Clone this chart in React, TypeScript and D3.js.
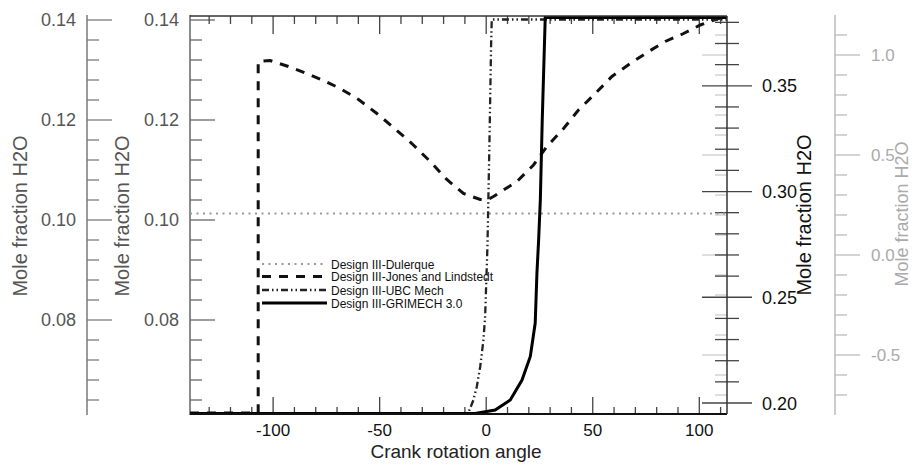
import * as d3 from 'd3';

const W = 912;
const H = 467;
const FONT = '"Liberation Sans", Arial, sans-serif';

// crank angle (deg) vs mole fraction H2O
const dulerqueAngle = [-139, -60, 0, 60, 113];
const dulerqueH2O = [0.1013, 0.1013, 0.1013, 0.1013, 0.1013];

const jonesAngle = [-139, -107, -107, -101.4, -92.8, -84.2, -76.4, -68.5, -59.9, -51.3, -43.5, -34.9, -26.3, -18.5, -10.7, -2.8, 0.5, 3.4, 14.4, 22.2, 28.5, 36.3, 43.3, 51.2, 59, 67.6, 76.2, 84, 92.6, 100.5, 109, 112];
const jonesH2O = [0.0614, 0.0614, 0.1317, 0.1319, 0.1307, 0.1293, 0.1279, 0.1263, 0.1241, 0.1213, 0.1185, 0.1153, 0.1117, 0.1081, 0.1053, 0.1041, 0.104, 0.1047, 0.1077, 0.111, 0.1147, 0.1183, 0.122, 0.1253, 0.1287, 0.1313, 0.1337, 0.1357, 0.1373, 0.139, 0.1403, 0.1405];

const ubcAngle = [-139, -9, -8.3, -6, -4.4, -2.8, -1.3, -0.5, 0.6, 1.5, 2.3, 2.6, 113];
const ubcH2O = [0.0613, 0.0613, 0.0615, 0.064, 0.0667, 0.0707, 0.076, 0.0807, 0.095, 0.115, 0.135, 0.1401, 0.1401];

const grimechAngle = [-139, -5.2, 4.2, 11.3, 16.8, 20.7, 23, 23.8, 24.6, 25.4, 26.3, 27.7, 113];
const grimechH2O = [0.0613, 0.0613, 0.062, 0.064, 0.068, 0.0727, 0.0794, 0.0893, 0.096, 0.104, 0.12, 0.1405, 0.1405];

const X_MAJOR = [-100, -50, 0, 50, 100];
const X_MINOR = [-130, -120, -110, -90, -80, -70, -60, -40, -30, -20, -10, 10, 20, 30, 40, 60, 70, 80, 90, 110];
const YL_MAJOR = [0.08, 0.1, 0.12, 0.14];
const YL_MINOR = [0.064, 0.068, 0.072, 0.076, 0.084, 0.088, 0.092, 0.096, 0.104, 0.108, 0.112, 0.116, 0.124, 0.128, 0.132, 0.136];
const YR_MAJOR = [0.2, 0.25, 0.3, 0.35];
const YR_MINOR = [0.21, 0.22, 0.23, 0.24, 0.26, 0.27, 0.28, 0.29, 0.31, 0.32, 0.33, 0.34, 0.36, 0.37, 0.38];
const YG_MAJOR = [-0.5, 0, 0.5, 1.0];
const YG_MINOR = [-0.7, -0.6, -0.4, -0.3, -0.2, -0.1, 0.1, 0.2, 0.3, 0.4, 0.6, 0.7, 0.8, 0.9, 1.1];

const SERIES = [
  { name: 'Design III-Dulerque', x: dulerqueAngle, y: dulerqueH2O, color: '#999', width: 2, dash: '2,4.5' },
  { name: 'Design III-Jones and Lindstedt', x: jonesAngle, y: jonesH2O, color: '#111', width: 3, dash: '9,8' },
  { name: 'Design III-UBC Mech', x: ubcAngle, y: ubcH2O, color: '#222', width: 2.3, dash: '7,3,1.5,3,1.5,3' },
  { name: 'Design III-GRIMECH 3.0', x: grimechAngle, y: grimechH2O, color: '#000', width: 3, dash: undefined as string | undefined },
];

const LEFT = 190, RIGHT = 727, TOP = 16, BOTTOM = 414;

// tecplot style: plain hyphen for negatives
const fmt = (spec: string) => (v: number) => d3.format(spec)(v).replace('\u2212', '-');

export default function App() {
  const x = d3.scaleLinear().domain([-139, 113]).range([LEFT, RIGHT]);
  const yL = d3.scaleLinear().domain([0.0612, 0.1408]).range([BOTTOM, TOP]);
  const yR = d3.scaleLinear().domain([0.1948, 0.383]).range([BOTTOM, TOP]);
  const yG = d3.scaleLinear().domain([-0.795, 1.195]).range([BOTTOM, TOP]);

  const line = d3.line<[number, number]>().x(d => x(d[0])).y(d => yL(d[1]));

  const leftAxis = (ax: number, color: string, labelColor: string, labelX: number) => (
    <g>
      <line x1={ax} x2={ax} y1={15} y2={415} stroke={color} strokeWidth={1.5} />
      {YL_MINOR.map(v => (
        <line key={'m' + v} x1={ax} x2={ax + 12} y1={yL(v)} y2={yL(v)} stroke={color} strokeWidth={1.3} />
      ))}
      {YL_MAJOR.map(v => (
        <g key={v}>
          <line x1={ax} x2={ax + 25} y1={yL(v)} y2={yL(v)} stroke={color} strokeWidth={1.3} />
          <text x={labelX} y={yL(v) + 6} textAnchor="end" fontSize={18} fill={labelColor}>
            {fmt('.2f')(v)}
          </text>
        </g>
      ))}
    </g>
  );

  const title = (cx: number, cy: number, color: string, size = 20) => (
    <text
      transform={`translate(${cx},${cy}) rotate(-90)`}
      textAnchor="middle"
      dominantBaseline="central"
      fontSize={size}
      fill={color}
    >
      Mole fraction H2O
    </text>
  );

  const legendRows = [264, 276.5, 290, 303];

  return (
    <svg
      width={W}
      height={H}
      style={{ position: 'absolute', left: 0, top: 0, background: 'white', fontFamily: FONT }}
    >
      {/* outer left axis */}
      {leftAxis(87, '#7a7a7a', '#555', 76)}
      {title(20, 216, '#555')}

      {/* inner left axis (plot frame) */}
      {leftAxis(LEFT, '#666', '#555', 179)}
      {title(122, 216, '#555')}

      {/* grey outer right axis */}
      <line x1={835} x2={835} y1={15} y2={415} stroke="#bbb" strokeWidth={1.5} />
      {YG_MINOR.map(v => (
        <line key={'gm' + v} x1={835} x2={847} y1={yG(v)} y2={yG(v)} stroke="#bbb" strokeWidth={1.3} />
      ))}
      {YG_MAJOR.map(v => (
        <g key={'g' + v}>
          <line x1={835} x2={860} y1={yG(v)} y2={yG(v)} stroke="#bbb" strokeWidth={1.3} />
          <text x={871} y={yG(v) + 6} fontSize={17} fill="#aaa">{fmt('.1f')(v)}</text>
        </g>
      ))}
      {title(902, 214, '#aaa', 18)}

      {/* grey axis mirrored ticks on the frame */}
      {YG_MINOR.map(v => (
        <line key={'gmm' + v} x1={RIGHT - 12} x2={RIGHT} y1={yG(v)} y2={yG(v)} stroke="#ccc" strokeWidth={1.3} />
      ))}
      {YG_MAJOR.map(v => (
        <line key={'gmM' + v} x1={RIGHT - 25} x2={RIGHT} y1={yG(v)} y2={yG(v)} stroke="#ccc" strokeWidth={1.3} />
      ))}

      {/* inner right axis */}
      {YR_MINOR.map(v => (
        <line key={'rm' + v} x1={RIGHT - 12} x2={RIGHT + 12} y1={yR(v)} y2={yR(v)} stroke="#444" strokeWidth={1.3} />
      ))}
      {YR_MAJOR.map(v => (
        <g key={'r' + v}>
          <line x1={RIGHT - 25} x2={RIGHT + 25} y1={yR(v)} y2={yR(v)} stroke="#444" strokeWidth={1.3} />
          <text x={762} y={yR(v) + 6.5} fontSize={18} fill="#111">{fmt('.2f')(v)}</text>
        </g>
      ))}
      {title(804, 215, '#111')}

      {/* x ticks bottom and top */}
      {X_MINOR.map(v => (
        <g key={'xm' + v}>
          <line x1={x(v)} x2={x(v)} y1={BOTTOM} y2={BOTTOM - 7} stroke="#444" strokeWidth={1.3} />
          <line x1={x(v)} x2={x(v)} y1={TOP} y2={TOP + 8} stroke="#444" strokeWidth={1.3} />
        </g>
      ))}
      {X_MAJOR.map(v => (
        <g key={'x' + v}>
          <line x1={x(v)} x2={x(v)} y1={BOTTOM} y2={BOTTOM - 17} stroke="#444" strokeWidth={1.3} />
          <line x1={x(v)} x2={x(v)} y1={TOP} y2={TOP + 18} stroke="#444" strokeWidth={1.3} />
          <text x={x(v)} y={436} textAnchor="middle" fontSize={17} fill="#111">{fmt('d')(v)}</text>
        </g>
      ))}
      <text x={456} y={458} textAnchor="middle" fontSize={19} fill="#222">Crank rotation angle</text>

      {/* series */}
      {SERIES.map(s => (
        <path
          key={s.name}
          d={line(s.x.map((v, i) => [v, s.y[i]] as [number, number])) ?? ''}
          fill="none"
          stroke={s.color}
          strokeWidth={s.width}
          strokeDasharray={s.dash}
        />
      ))}

      {/* frame */}
      <line x1={LEFT} x2={RIGHT} y1={BOTTOM} y2={BOTTOM} stroke="#111" strokeWidth={1.8} />
      <line x1={LEFT} x2={RIGHT} y1={TOP} y2={TOP} stroke="#333" strokeWidth={1.5} />
      <line x1={RIGHT} x2={RIGHT} y1={TOP} y2={BOTTOM} stroke="#333" strokeWidth={1.5} />

      {/* legend */}
      {SERIES.map((s, i) => (
        <g key={'l' + s.name}>
          <line x1={262} x2={327} y1={legendRows[i]} y2={legendRows[i]} stroke={s.color}
            strokeWidth={s.width} strokeDasharray={s.dash} />
          <text x={331} y={legendRows[i] + 4.5} fontSize={12} fill="#111">{s.name}</text>
        </g>
      ))}
    </svg>
  );
}
